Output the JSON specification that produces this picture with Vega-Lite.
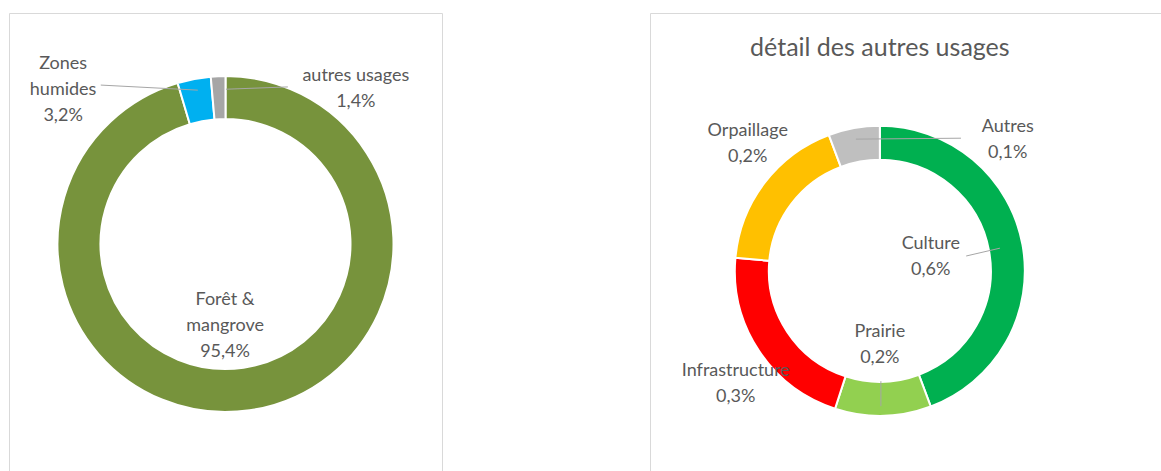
{
  "$schema": "https://vega.github.io/schema/vega-lite/v6.json",
  "background": "white",
  "padding": {"left": 8, "top": 12, "right": 0, "bottom": 0},
  "spacing": 206,
  "resolve": {"scale": {"color": "independent"}},
  "config": {
    "view": {"stroke": "#d9d9d9", "strokeWidth": 1},
    "text": {"font": "Lato", "fontSize": 18, "color": "#595959", "lineBreak": "\n", "lineHeight": 26}
  },
  "datasets": {
    "main": [
      {"category": "Forêt & mangrove", "value": 95.4, "rank": 1, "label": "Forêt &\nmangrove\n95,4%"},
      {"category": "Zones humides", "value": 3.2, "rank": 2, "label": "Zones\nhumides\n3,2%"},
      {"category": "autres usages", "value": 1.4, "rank": 3, "label": "autres usages\n1,4%"}
    ],
    "detail": [
      {"category": "Culture", "value": 0.62, "rank": 1, "label": "Culture\n0,6%"},
      {"category": "Prairie", "value": 0.15, "rank": 2, "label": "Prairie\n0,2%"},
      {"category": "Infrastructure", "value": 0.30, "rank": 3, "label": "Infrastructure\n0,3%"},
      {"category": "Orpaillage", "value": 0.25, "rank": 4, "label": "Orpaillage\n0,2%"},
      {"category": "Autres", "value": 0.08, "rank": 5, "label": "Autres\n0,1%"}
    ]
  },
  "hconcat": [
    {
      "width": 433,
      "height": 462,
      "data": {"name": "main"},
      "layer": [
        {
          "mark": {"type": "arc", "outerRadius": 168, "innerRadius": 125, "stroke": "white", "strokeWidth": 2},
          "encoding": {
            "theta": {"field": "value", "type": "quantitative", "stack": true},
            "order": {"field": "rank", "type": "ordinal"},
            "color": {"field": "category", "type": "nominal", "legend": null,
              "scale": {"domain": ["Forêt & mangrove", "Zones humides", "autres usages"], "range": ["#77933C", "#00B0F0", "#A6A6A6"]}}
          }
        },
        {
          "transform": [{"filter": "datum.category === 'Zones humides'"}],
          "mark": {"type": "rule", "color": "#a6a6a6", "strokeWidth": 1},
          "encoding": {
            "x": {"datum": 21.2, "type": "quantitative", "scale": {"domain": [0, 100]}, "axis": null},
            "y": {"datum": 15.6, "type": "quantitative", "scale": {"domain": [0, 100], "reverse": true}, "axis": null},
            "x2": {"datum": 43.6},
            "y2": {"datum": 16.7}
          }
        },
        {
          "transform": [{"filter": "datum.category === 'autres usages'"}],
          "mark": {"type": "rule", "color": "#a6a6a6", "strokeWidth": 1},
          "encoding": {
            "x": {"datum": 50.1, "type": "quantitative", "scale": {"domain": [0, 100]}, "axis": null},
            "y": {"datum": 16.5, "type": "quantitative", "scale": {"domain": [0, 100], "reverse": true}, "axis": null},
            "x2": {"datum": 64.4},
            "y2": {"datum": 16.0}
          }
        },
        {
          "transform": [{"filter": "datum.category === 'Zones humides'"}],
          "mark": {"type": "text"},
          "encoding": {
            "text": {"field": "label", "type": "nominal"},
            "x": {"datum": 12.5, "type": "quantitative", "scale": {"domain": [0, 100]}, "axis": null},
            "y": {"datum": 11.0, "type": "quantitative", "scale": {"domain": [0, 100], "reverse": true}, "axis": null}
          }
        },
        {
          "transform": [{"filter": "datum.category === 'autres usages'"}],
          "mark": {"type": "text"},
          "encoding": {
            "text": {"field": "label", "type": "nominal"},
            "x": {"datum": 80.1, "type": "quantitative", "scale": {"domain": [0, 100]}, "axis": null},
            "y": {"datum": 13.6, "type": "quantitative", "scale": {"domain": [0, 100], "reverse": true}, "axis": null}
          }
        },
        {
          "transform": [{"filter": "datum.category === 'Forêt & mangrove'"}],
          "mark": {"type": "text"},
          "encoding": {
            "text": {"field": "label", "type": "nominal"},
            "x": {"datum": 49.9, "type": "quantitative", "scale": {"domain": [0, 100]}, "axis": null},
            "y": {"datum": 62.1, "type": "quantitative", "scale": {"domain": [0, 100], "reverse": true}, "axis": null}
          }
        }
      ]
    },
    {
      "width": 520,
      "height": 462,
      "data": {"name": "detail"},
      "layer": [
        {
          "transform": [{"filter": "datum.rank === 1"}],
          "mark": {"type": "text", "fontSize": 25},
          "encoding": {
            "text": {"value": "détail des autres usages"},
            "x": {"datum": 44.2, "type": "quantitative", "scale": {"domain": [0, 100]}, "axis": null},
            "y": {"datum": 7.6, "type": "quantitative", "scale": {"domain": [0, 100], "reverse": true}, "axis": null}
          }
        },
        {
          "mark": {"type": "arc", "outerRadius": 145, "innerRadius": 111, "stroke": "white", "strokeWidth": 2},
          "encoding": {
            "x": {"datum": 44.2, "type": "quantitative", "scale": {"domain": [0, 100]}, "axis": null},
            "y": {"datum": 55.8, "type": "quantitative", "scale": {"domain": [0, 100], "reverse": true}, "axis": null},
            "theta": {"field": "value", "type": "quantitative", "stack": true},
            "order": {"field": "rank", "type": "ordinal"},
            "color": {"field": "category", "type": "nominal", "legend": null,
              "scale": {"domain": ["Culture", "Prairie", "Infrastructure", "Orpaillage", "Autres"], "range": ["#00B050", "#92D050", "#FF0000", "#FFC000", "#BFBFBF"]}}
          }
        },
        {
          "transform": [{"filter": "datum.category === 'Autres'"}],
          "mark": {"type": "rule", "color": "#a6a6a6", "strokeWidth": 1},
          "encoding": {
            "x": {"datum": 39.6, "type": "quantitative", "scale": {"domain": [0, 100]}, "axis": null},
            "y": {"datum": 27.3, "type": "quantitative", "scale": {"domain": [0, 100], "reverse": true}, "axis": null},
            "x2": {"datum": 59.8},
            "y2": {"datum": 27.1}
          }
        },
        {
          "transform": [{"filter": "datum.category === 'Culture'"}],
          "mark": {"type": "rule", "color": "#a6a6a6", "strokeWidth": 1},
          "encoding": {
            "x": {"datum": 60.8, "type": "quantitative", "scale": {"domain": [0, 100]}, "axis": null},
            "y": {"datum": 52.6, "type": "quantitative", "scale": {"domain": [0, 100], "reverse": true}, "axis": null},
            "x2": {"datum": 67.3},
            "y2": {"datum": 50.9}
          }
        },
        {
          "transform": [{"filter": "datum.category === 'Prairie'"}],
          "mark": {"type": "rule", "color": "#a6a6a6", "strokeWidth": 1},
          "encoding": {
            "x": {"datum": 44.4, "type": "quantitative", "scale": {"domain": [0, 100]}, "axis": null},
            "y": {"datum": 79.7, "type": "quantitative", "scale": {"domain": [0, 100], "reverse": true}, "axis": null},
            "x2": {"datum": 44.4},
            "y2": {"datum": 85.1}
          }
        },
        {
          "transform": [{"filter": "datum.category === 'Orpaillage'"}],
          "mark": {"type": "text"},
          "encoding": {
            "text": {"field": "label", "type": "nominal"},
            "x": {"datum": 18.8, "type": "quantitative", "scale": {"domain": [0, 100]}, "axis": null},
            "y": {"datum": 25.5, "type": "quantitative", "scale": {"domain": [0, 100], "reverse": true}, "axis": null}
          }
        },
        {
          "transform": [{"filter": "datum.category === 'Autres'"}],
          "mark": {"type": "text"},
          "encoding": {
            "text": {"field": "label", "type": "nominal"},
            "x": {"datum": 68.8, "type": "quantitative", "scale": {"domain": [0, 100]}, "axis": null},
            "y": {"datum": 24.7, "type": "quantitative", "scale": {"domain": [0, 100], "reverse": true}, "axis": null}
          }
        },
        {
          "transform": [{"filter": "datum.category === 'Culture'"}],
          "mark": {"type": "text"},
          "encoding": {
            "text": {"field": "label", "type": "nominal"},
            "x": {"datum": 54.0, "type": "quantitative", "scale": {"domain": [0, 100]}, "axis": null},
            "y": {"datum": 50.0, "type": "quantitative", "scale": {"domain": [0, 100], "reverse": true}, "axis": null}
          }
        },
        {
          "transform": [{"filter": "datum.category === 'Prairie'"}],
          "mark": {"type": "text"},
          "encoding": {
            "text": {"field": "label", "type": "nominal"},
            "x": {"datum": 44.2, "type": "quantitative", "scale": {"domain": [0, 100]}, "axis": null},
            "y": {"datum": 69.0, "type": "quantitative", "scale": {"domain": [0, 100], "reverse": true}, "axis": null}
          }
        },
        {
          "transform": [{"filter": "datum.category === 'Infrastructure'"}],
          "mark": {"type": "text"},
          "encoding": {
            "text": {"field": "label", "type": "nominal"},
            "x": {"datum": 16.5, "type": "quantitative", "scale": {"domain": [0, 100]}, "axis": null},
            "y": {"datum": 77.5, "type": "quantitative", "scale": {"domain": [0, 100], "reverse": true}, "axis": null}
          }
        }
      ]
    }
  ]
}
